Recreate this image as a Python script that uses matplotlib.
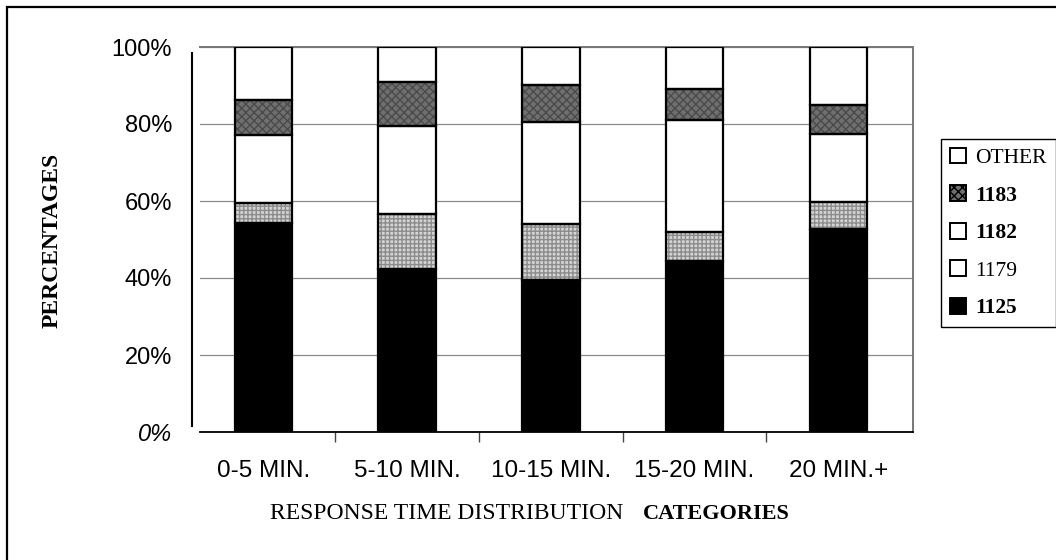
"""Stacked percentage bars: response time distribution by unit."""

import matplotlib

matplotlib.use("Agg")
import matplotlib.pyplot as plt
import numpy as np
from matplotlib.patches import Patch, Rectangle

CATEGORIES = ["0-5 MIN.", "5-10 MIN.", "10-15 MIN.", "15-20 MIN.", "20 MIN.+"]
SERIES = ["1125", "1179", "1182", "1183", "OTHER"]
V_1125 = [54.3, 42.4, 39.6, 44.5, 52.8]
V_1179 = [5.1, 14.1, 14.5, 7.4, 6.9]
V_1182 = [17.7, 23.0, 26.3, 29.2, 17.6]
V_1183 = [9.1, 11.3, 9.8, 7.9, 7.6]
V_OTHER = [13.8, 9.2, 9.8, 11.0, 15.1]
Y_TICKS = [0, 20, 40, 60, 80, 100]

# face, hatch, hatch colour per series
STYLES = {
    "1125": ("black", "", "black"),
    "1179": ("#d4d4d4", "++++", "#8c8c8c"),
    "1182": ("white", "", "white"),
    "1183": ("#6f6f6f", "xxxx", "#4a4a4a"),
    "OTHER": ("white", "", "white"),
}

SANS = "Liberation Sans"
SERIF = "Liberation Serif"

fig = plt.figure(figsize=(10.56, 5.6), dpi=100)
ax = fig.add_axes([200 / 1056, 1 - 432 / 560, 713 / 1056, 385 / 560])
# spine position resets ticks, so do it before styling tick labels
ax.spines["left"].set_position(("outward", 6))

x = np.arange(len(CATEGORIES))
w = 0.40
bottom = np.zeros(len(CATEGORIES))
values = [V_1125, V_1179, V_1182, V_1183, V_OTHER]
for name, vals in zip(SERIES, values):
    face, hatch, hcol = STYLES[name]
    ax.bar(x, vals, w, bottom=bottom, color=face, hatch=hatch,
           edgecolor=hcol, linewidth=0, zorder=2)
    ax.bar(x, vals, w, bottom=bottom, fill=False, edgecolor="black",
           linewidth=1.6, zorder=3)
    bottom += np.array(vals)

ax.set_xlim(-0.44, 4.52)
ax.set_ylim(0, 100)
ax.set_yticks(Y_TICKS)
ax.set_yticklabels([f"{t}%" for t in Y_TICKS], fontsize=17, family=SANS)
ax.get_yticklabels()[0].set_style("italic")
ax.tick_params(axis="y", length=0, pad=14)
ax.spines["left"].set_bounds(1.5, 98.5)
ax.spines["left"].set_linewidth(1.5)
ax.grid(True, axis="y", color="#8a8a8a", linewidth=0.9, zorder=0)

ax.set_xticks(x)
ax.set_xticklabels(CATEGORIES, fontsize=17.5, family=SANS)
ax.tick_params(axis="x", which="major", length=0, pad=20)
ax.set_xticks(x[:-1] + 0.5, minor=True)
ax.tick_params(axis="x", which="minor", length=7, width=1, color="#444444")
ax.spines["bottom"].set_linewidth(1.3)
for side in ("top", "right"):
    ax.spines[side].set_color("#777777")
    ax.spines[side].set_linestyle((0, (1, 1)))
    ax.spines[side].set_linewidth(1.4)

fig.text(52 / 1056, 1 - 240 / 560, "PERCENTAGES", rotation=90, ha="center",
         va="center", fontsize=17, fontweight="bold", family=SERIF)
fig.text(270 / 1056, 1 - 519 / 560, "RESPONSE TIME DISTRIBUTION",
         ha="left", va="baseline", fontsize=17, family=SERIF)
fig.text(643 / 1056, 1 - 519 / 560, "CATEGORIES", ha="left",
         va="baseline", fontsize=16, fontweight="bold", family=SERIF)

# legend squares as they appear in the picture
legend_faces = {"OTHER": "white", "1183": "#6f6f6f", "1182": "white",
                "1179": "white", "1125": "black"}
order = SERIES[::-1]
handles = [Patch(facecolor=legend_faces[n], edgecolor="black", linewidth=1.4,
                 hatch=STYLES[n][1] if n == "1183" else "") for n in order]
leg = fig.legend(handles, order, loc="upper left",
                 bbox_to_anchor=(941 / 1056, 1 - 139 / 560),
                 prop={"family": SERIF, "size": 15.5}, frameon=True,
                 fancybox=False, edgecolor="black", framealpha=1,
                 borderpad=0.4, labelspacing=0.8, handlelength=0.75,
                 handleheight=0.75, handletextpad=0.45, borderaxespad=0)
leg.get_frame().set_linewidth(1.0)
for txt in leg.get_texts():
    if txt.get_text() in ("1183", "1182", "1125"):
        txt.set_fontweight("bold")

fig.patches.append(Rectangle((7 / 1056, -0.02), 1.1, 1 - 7 / 560 + 0.02,
                             transform=fig.transFigure, fill=False,
                             edgecolor="black", linewidth=1.6))

fig.savefig("out.png", dpi=100)
plt.close(fig)
